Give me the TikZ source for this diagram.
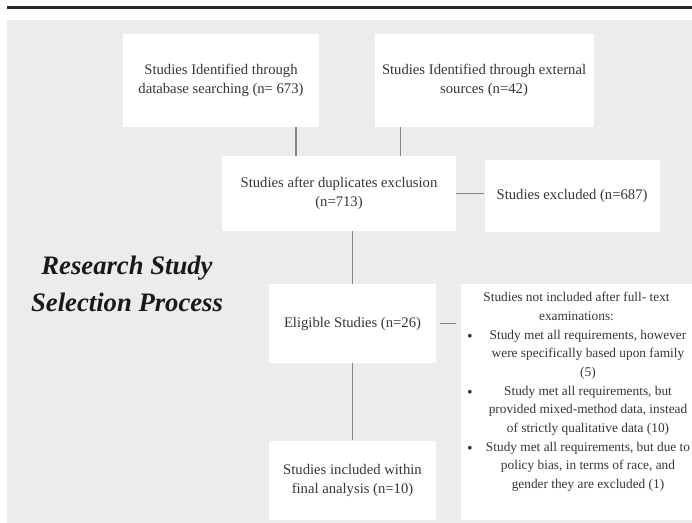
\documentclass[tikz,border=0pt]{standalone}
\usepackage{fontspec}
\setmainfont{Liberation Serif}
\usepackage{tikz}
\usetikzlibrary{positioning}
\definecolor{bggrey}{HTML}{ECECEC}
\definecolor{txtgrey}{HTML}{363636}
\definecolor{linkgrey}{HTML}{858585}
\newcommand{\noteitem}[1]{\par\noindent\makebox[17.25pt][l]{\hspace{4.5pt}\raisebox{-1.6pt}{\fontsize{12}{14}\selectfont\textbullet}}\parbox[t]{156pt}{\centering\strut #1\strut}\par}

\begin{document}
\begin{tikzpicture}[
  x=0.75pt, y=-0.75pt,
  box/.style={fill=white, align=center, inner sep=0pt, text=txtgrey, font=\fontsize{11}{14.25}\selectfont},
  notebox/.style={fill=white, inner sep=0pt, text=txtgrey, font=\fontsize{10}{14}\selectfont},
  heading/.style={align=center, text=black!90, font=\fontsize{20}{27.75}\selectfont\bfseries\itshape},
  link/.style={draw=linkgrey, line width=0.9pt}
]
\useasboundingbox (0,0) rectangle (692,523);
\fill[bggrey] (7,20) rectangle (692,523);
\draw[line width=2.4pt, black!85] (7,7.5) -- (692,7.5);

\node[box, minimum width=147pt, minimum height=69.75pt] (ident) at (221,80.5) {Studies Identified through\\database searching (n= 673)};
\node[box, minimum width=164.25pt, minimum height=69.75pt, right=41.25pt of ident] (extern) {Studies Identified through external\\sources (n=42)};
\node[box, minimum width=175.5pt, minimum height=56.25pt] (dedup) at (339,193.5) {Studies after duplicates exclusion\\(n=713)};
\node[box, minimum width=131.25pt, minimum height=54pt, right=21pt of dedup, yshift=-1.9pt] (excluded) {Studies excluded (n=687)};
\node[box, minimum width=125.25pt, minimum height=59.25pt] (eligible) at (352.5,323.5) {Eligible Studies (n=26)};
\node[box, minimum width=125.25pt, minimum height=59.25pt, below=57.75pt of eligible] (final) {Studies included within\\final analysis (n=10)};
\node[notebox] (notincl) at (576.5,402) {\begin{minipage}[c][177pt][t]{173.25pt}
\lineskip=0pt
\vspace*{6.3pt}
\centering
Studies not included after full- text\\
examinations:\par
\noteitem{Study met all requirements, however\\were specifically based upon family\\(5)}
\noteitem{Study met all requirements, but\\provided mixed-method data, instead\\of strictly qualitative data (10)}
\noteitem{Study met all requirements, but due to\\policy bias, in terms of race, and\\gender they are excluded (1)}
\end{minipage}};
\node[heading] (title) at (127,284) {Research Study\\Selection Process};

\draw[link] ([xshift=56.25pt]ident.south) -- ([xshift=56.25pt]ident.south |- dedup.north);
\draw[link] ([xshift=-62.6pt]extern.south) -- ([xshift=-62.6pt]extern.south |- dedup.north);
\draw[link] (dedup.east) -- (dedup.east -| excluded.west);
\draw[link] (eligible.north |- dedup.south) -- (eligible.north);
\draw[link] ([xshift=3pt]eligible.east) -- ([xshift=-3.75pt]eligible.east -| notincl.west);
\draw[link] (eligible.south) -- (final.north);
\end{tikzpicture}
\end{document}
